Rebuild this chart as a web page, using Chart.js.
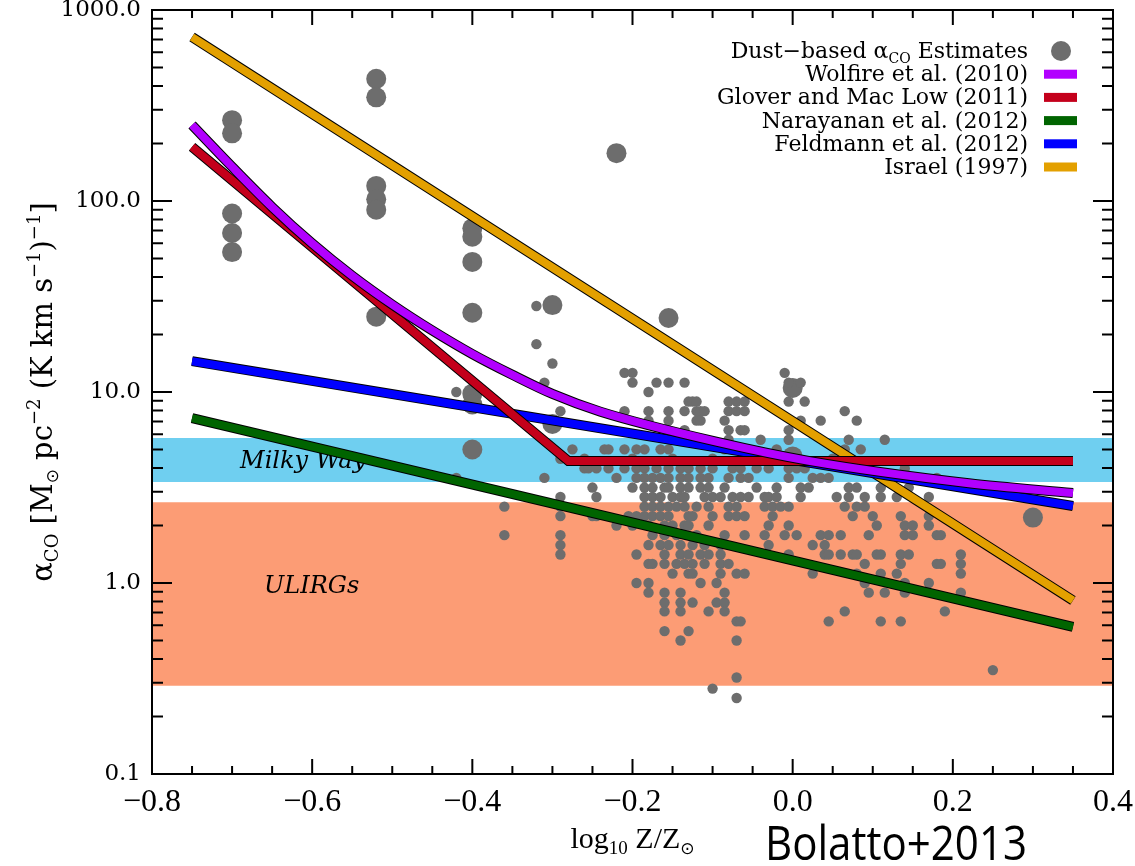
<!DOCTYPE html>
<html>
<head>
<meta charset="utf-8">
<title>alpha_CO vs metallicity</title>
<script src="https://cdn.jsdelivr.net/npm/chart.js@4.4.1/dist/chart.umd.min.js"></script>
<style>
  html, body { margin: 0; padding: 0; background: #fff; }
  #wrap { width: 1135px; height: 866px; }
</style>
</head>
<body>
<div id="wrap"><canvas id="alphaChart"></canvas></div>
<script>
// axis ticks
const xMajorTicks = [-0.8, -0.6, -0.4, -0.2, 0.0, 0.2, 0.4];
const xTickLabels = ['\u22120.8', '\u22120.6', '\u22120.4', '\u22120.2', '0.0', '0.2', '0.4'];
const yMajorTicks = [0.1, 1, 10, 100, 1000];
const yTickLabels = ['0.1', '1.0', '10.0', '100.0', '1000.0'];

// shaded ranges [low, high] in alpha_CO
const bandX = [-0.8, 0.4];
const milkyWayBand = [3.38, 5.74];
const ulirgBand = [0.29, 2.65];

// model curves: log10 Z/Zsun vs alpha_CO
const seriesNames = ['Wolfire et al. (2010)', 'Glover and Mac Low (2011)', 'Narayanan et al. (2012)', 'Feldmann et al. (2012)', 'Israel (1997)'];
const seriesColors = ['#b200ff', '#c4001b', '#006400', '#0000ff', '#e3a000'];

const wolfireX = [-0.75, -0.70, -0.65, -0.60, -0.55, -0.50, -0.45, -0.40, -0.35, -0.30, -0.24, -0.09, 0.02, 0.22, 0.35];
const wolfireY = [250, 151, 93, 60, 40.6, 28.7, 21.0, 15.8, 12.3, 9.77, 7.89, 5.43, 4.36, 3.33, 2.96];
const gloverX = [-0.75, -0.28, 0.35];
const gloverY = [192, 4.35, 4.35];
const narayananX = [-0.75, 0.35];
const narayananY = [7.3, 0.59];
const feldmannX = [-0.75, 0.35];
const feldmannY = [14.5, 2.53];
const israelX = [-0.75, 0.35];
const israelY = [722, 0.81];

// dust-based estimates, big symbols
const dustLargeX = [-0.70, -0.70, -0.70, -0.70, -0.70, -0.52, -0.52, -0.52, -0.52, -0.52, -0.52,
  -0.40, -0.40, -0.40, -0.40, -0.40, -0.40, -0.40, -0.30, -0.30, -0.22, -0.155, 0.00, 0.00, 0.30];
const dustLargeY = [265, 226, 86, 68, 54, 436, 349, 120, 102, 90, 24.8,
  72, 65, 48, 26, 9.8, 8.6, 5.0, 28.5, 6.8, 178, 24.4, 10.5, 4.6, 2.2];

// dust-based estimates, small symbols: one alpha level per row
const dustLevels = [28.2, 17.8, 14.1, 12.6, 11.2, 10.0, 8.91, 7.94, 7.08, 6.31, 5.62, 5.01, 4.47, 3.98,
  3.55, 3.16, 2.82, 2.51, 2.24, 2.00, 1.78, 1.58, 1.41, 1.26, 1.12, 1.00, 0.89, 0.79, 0.71, 0.63,
  0.56, 0.50, 0.35, 0.32, 0.28, 0.25];
const dustRowX = [
  [-0.32],
  [-0.32],
  [-0.30],
  [-0.21, -0.20, -0.01],
  [-0.31, -0.20, -0.17, -0.155, -0.135, 0.01, -0.005],
  [-0.42, -0.18],
  [-0.13, -0.125, -0.12, -0.08, -0.07, -0.06, -0.005, 0.015],
  [-0.29, -0.21, -0.18, -0.155, -0.135, -0.12, -0.115, -0.11, -0.08, -0.07, -0.06, 0.065],
  [-0.18, -0.155, -0.12, -0.115, -0.085, 0.01, 0.035, 0.08],
  [-0.155, -0.135, -0.08, -0.065, -0.06, -0.005],
  [-0.08, -0.04, -0.005, 0.07, 0.115],
  [-0.275, -0.235, -0.23, -0.21, -0.195, -0.185, -0.165, -0.155, -0.085, -0.07, -0.02, 0.065, 0.085],
  [-0.29, -0.26, -0.2, -0.15, -0.1, -0.03, 0.05],
  [-0.26, -0.255, -0.245, -0.23, -0.21, -0.195, -0.185, -0.17, -0.155, -0.14, -0.13, -0.115, -0.10,
    -0.075, -0.065, -0.045, -0.03, -0.005, 0.005, 0.015, 0.14],
  [-0.42, -0.31, -0.22, -0.195, -0.185, -0.175, -0.165, -0.155, -0.14, -0.13, -0.115, -0.105, -0.08,
    -0.065, -0.055, -0.005, 0.025, 0.035, 0.045, 0.18],
  [-0.25, -0.20, -0.185, -0.175, -0.16, -0.155, -0.14, -0.13, -0.115, -0.105, -0.085, -0.045, -0.02,
    0.01, 0.02, 0.07, 0.08, 0.11, 0.145],
  [-0.29, -0.245, -0.185, -0.175, -0.165, -0.15, -0.14, -0.135, -0.11, -0.10, -0.09, -0.075, -0.065,
    -0.055, -0.035, -0.03, -0.02, 0.01, 0.055, 0.07, 0.09, 0.11, 0.13, 0.17],
  [-0.36, -0.29, -0.185, -0.175, -0.165, -0.155, -0.145, -0.135, -0.12, -0.105, -0.08, -0.07, -0.035,
    -0.025, -0.015, -0.005, 0.065, 0.08, 0.09],
  [-0.29, -0.25, -0.245, -0.205, -0.195, -0.185, -0.175, -0.165, -0.155, -0.13, -0.125, -0.10, -0.08,
    -0.07, -0.06, -0.025, 0.075, 0.10, 0.135, 0.17],
  [-0.22, -0.20, -0.18, -0.16, -0.15, -0.135, -0.13, -0.105, -0.03, -0.005, 0.105, 0.14, 0.15, 0.17],
  [-0.36, -0.29, -0.175, -0.16, -0.145, -0.12, -0.085, -0.06, -0.035, -0.01, 0.005, 0.035, 0.045,
    0.06, 0.095, 0.14, 0.15, 0.18, 0.185],
  [-0.29, -0.18, -0.165, -0.155, -0.14, -0.125, -0.11, -0.09, -0.03, 0.025, 0.04],
  [-0.29, -0.195, -0.16, -0.14, -0.13, -0.115, -0.105, -0.09, -0.005, 0.04, 0.045, 0.06, 0.075, 0.08,
    0.105, 0.11, 0.135, 0.145, 0.21],
  [-0.18, -0.175, -0.16, -0.145, -0.135, -0.125, -0.11, -0.09, -0.08, 0.09, 0.135, 0.18, 0.185, 0.21],
  [-0.15, -0.13, -0.125, -0.09, -0.07, -0.06, 0.025, 0.08, 0.11, 0.13, 0.21],
  [-0.195, -0.18, -0.115, -0.095, 0.09, 0.14, 0.17],
  [-0.18, -0.16, -0.14, -0.085, 0.095, 0.115, 0.14, 0.21],
  [-0.16, -0.14, -0.125, -0.095, -0.085],
  [-0.16, -0.14, -0.105, -0.085, 0.065, 0.19],
  [-0.07, -0.065, 0.045, 0.11, 0.135],
  [-0.16, -0.13],
  [-0.14, -0.07],
  [0.25],
  [-0.07],
  [-0.10],
  [-0.07]
];

const dotColor = '#6d6d6d';
const mwLabelAt = [-0.69, 4.3];
const ulirgLabelAt = [-0.66, 0.95];

function toPoints(xs, ys) {
  return xs.map((x, i) => ({ x: x, y: ys[i] }));
}

const dustSmall = [];
dustRowX.forEach((row, i) => {
  row.forEach(x => dustSmall.push({ x: x, y: dustLevels[i] }));
});

// drawn top to bottom: Wolfire over Glover over Feldmann over Narayanan over Israel
const curves = [
  { xs: wolfireX, ys: wolfireY, color: seriesColors[0], smooth: true },
  { xs: gloverX, ys: gloverY, color: seriesColors[1] },
  { xs: feldmannX, ys: feldmannY, color: seriesColors[3] },
  { xs: narayananX, ys: narayananY, color: seriesColors[2] },
  { xs: israelX, ys: israelY, color: seriesColors[4] }
];

const datasets = [
  {
    type: 'line', label: 'Milky Way',
    data: toPoints(bandX, [milkyWayBand[1], milkyWayBand[1]]),
    fill: { value: milkyWayBand[0] }, backgroundColor: '#6fcff0',
    borderColor: 'rgba(0,0,0,0)', borderWidth: 0, pointRadius: 0, order: 30
  },
  {
    type: 'line', label: 'ULIRGs',
    data: toPoints(bandX, [ulirgBand[1], ulirgBand[1]]),
    fill: { value: ulirgBand[0] }, backgroundColor: '#fc9c75',
    borderColor: 'rgba(0,0,0,0)', borderWidth: 0, pointRadius: 0, order: 31
  },
  {
    type: 'scatter', label: 'dust small', data: dustSmall,
    pointRadius: 5.2, backgroundColor: dotColor, borderWidth: 0, order: 20
  },
  {
    type: 'scatter', label: 'dust large', data: toPoints(dustLargeX, dustLargeY),
    pointRadius: 10, backgroundColor: dotColor, borderWidth: 0, order: 20
  }
];

curves.forEach((c, i) => {
  const common = {
    type: 'line', data: toPoints(c.xs, c.ys), pointRadius: 0, fill: false,
    cubicInterpolationMode: c.smooth ? 'monotone' : 'default',
    borderJoinStyle: 'miter', borderCapStyle: 'butt'
  };
  datasets.push(Object.assign({}, common, { borderColor: '#000', borderWidth: 10, order: 2 * i + 1 }));
  datasets.push(Object.assign({}, common, { borderColor: c.color, borderWidth: 8, order: 2 * i }));
});

// draw text pieces in a row, returns total width
function drawPieces(ctx, pieces, x0, y0, measureOnly) {
  let w = 0;
  pieces.forEach(p => {
    ctx.font = p.font;
    if (!measureOnly) ctx.fillText(p.t, x0 + w, y0 + (p.dy || 0));
    w += ctx.measureText(p.t).width;
  });
  return w;
}

const decorations = {
  id: 'decorations',
  afterDatasetDraw(chart, args) {
    if (args.index !== 0) return;
    const { ctx, scales: { x, y } } = chart;
    ctx.save();
    ctx.fillStyle = '#000';
    ctx.textBaseline = 'middle';
    ctx.font = 'italic 24px "DejaVu Serif"';
    ctx.fillText('Milky Way', x.getPixelForValue(mwLabelAt[0]), y.getPixelForValue(mwLabelAt[1]));
    ctx.fillText('ULIRGs', x.getPixelForValue(ulirgLabelAt[0]), y.getPixelForValue(ulirgLabelAt[1]));
    ctx.restore();
  },
  afterDatasetsDraw(chart) {
    const { ctx, chartArea: a, scales: { x, y } } = chart;
    ctx.save();
    ctx.strokeStyle = '#000';
    ctx.lineWidth = 2;
    ctx.beginPath();
    const xMin = xMajorTicks[0], xMax = xMajorTicks[xMajorTicks.length - 1];
    const nx = Math.round((xMax - xMin) / 0.05);
    for (let i = 0; i <= nx; i++) {
      const px = x.getPixelForValue(xMin + i * 0.05);
      const len = i % 4 === 0 ? 15 : 8;
      ctx.moveTo(px, a.bottom); ctx.lineTo(px, a.bottom - len);
      ctx.moveTo(px, a.top); ctx.lineTo(px, a.top + len);
    }
    for (let d = 0; d < yMajorTicks.length; d++) {
      for (let m = 1; m <= 9; m++) {
        if (m > 1 && d === yMajorTicks.length - 1) break;
        const py = y.getPixelForValue(yMajorTicks[d] * m);
        const len = m === 1 ? 20 : 11;
        ctx.moveTo(a.left, py); ctx.lineTo(a.left + len, py);
        ctx.moveTo(a.right, py); ctx.lineTo(a.right - len, py);
      }
    }
    ctx.stroke();
    ctx.strokeRect(a.left, a.top, a.right - a.left, a.bottom - a.top);
    ctx.restore();
  },
  afterDraw(chart) {
    const { ctx, chartArea: a } = chart;
    ctx.save();
    ctx.fillStyle = '#000';
    ctx.textBaseline = 'alphabetic';

    // legend
    const main = '22px "DejaVu Serif"';
    const sub = '14px "DejaVu Serif"';
    const textRight = 1028;
    const rowY = i => 51 + i * 23.2;
    const first = [
      { t: 'Dust\u2212based ', font: main },
      { t: '\u03b1', font: main },
      { t: 'CO', font: sub, dy: 5 },
      { t: ' Estimates', font: main }
    ];
    const w0 = drawPieces(ctx, first, 0, 0, true);
    drawPieces(ctx, first, textRight - w0, rowY(0) + 7);
    ctx.fillStyle = dotColor;
    ctx.beginPath();
    ctx.arc(1061, rowY(0), 10, 0, Math.PI * 2);
    ctx.fill();
    ctx.font = main;
    ctx.textAlign = 'right';
    seriesNames.forEach((name, i) => {
      ctx.fillStyle = '#000';
      ctx.fillText(name, textRight, rowY(i + 1) + 7);
      ctx.fillStyle = seriesColors[i];
      ctx.fillRect(1044, rowY(i + 1) - 4.5, 33, 9);
    });
    ctx.textAlign = 'left';
    ctx.fillStyle = '#000';

    // x title
    const xt = [
      { t: 'log', font: '30px "Liberation Serif"' },
      { t: '10', font: '19px "Liberation Serif"', dy: 6 },
      { t: ' Z/Z', font: '30px "Liberation Serif"' },
      { t: '\u2299', font: '17px "DejaVu Sans"', dy: 6 }
    ];
    const wx = drawPieces(ctx, xt, 0, 0, true);
    drawPieces(ctx, xt, (a.left + a.right) / 2 - wx / 2, 848);

    // y title, rotated
    const big = '29px "DejaVu Serif"';
    const small = '18px "DejaVu Serif"';
    const yt = [
      { t: '\u03b1', font: big },
      { t: 'CO', font: small, dy: 6 },
      { t: ' [M', font: big },
      { t: '\u2299', font: '17px "DejaVu Sans"', dy: 6 },
      { t: ' pc', font: big },
      { t: '\u22122', font: small, dy: -12 },
      { t: ' (K km s', font: big },
      { t: '\u22121', font: small, dy: -12 },
      { t: ')', font: big },
      { t: '\u22121', font: small, dy: -12 },
      { t: ']', font: big }
    ];
    const wy = drawPieces(ctx, yt, 0, 0, true);
    ctx.translate(52, (a.top + a.bottom) / 2);
    ctx.rotate(-Math.PI / 2);
    drawPieces(ctx, yt, -wy / 2, 0);
    ctx.setTransform(1, 0, 0, 1, 0, 0);

    // credit
    ctx.font = '48px "Open Sans"';
    ctx.fillText('Bolatto+2013', 765, 860, 262);
    ctx.restore();
  }
};

new Chart(document.getElementById('alphaChart').getContext('2d'), {
  type: 'scatter',
  data: { datasets: datasets },
  options: {
    responsive: true,
    maintainAspectRatio: false,
    animation: false,
    events: [],
    layout: { padding: { left: 0, right: 22, top: 10, bottom: 0 } },
    plugins: { legend: { display: false }, tooltip: { enabled: false } },
    scales: {
      x: {
        type: 'linear', min: -0.8, max: 0.4,
        grid: { display: false, drawTicks: false },
        border: { display: false },
        afterBuildTicks: s => { s.ticks = xMajorTicks.map(v => ({ value: v })); },
        afterFit: s => { s.height = 92; s.paddingLeft = 0; s.paddingRight = 0; },
        ticks: {
          autoSkip: false, maxRotation: 0, padding: 9, color: '#000',
          font: { family: 'Liberation Serif', size: 32 },
          callback: (v, i) => xTickLabels[i]
        }
      },
      y: {
        type: 'logarithmic', min: 0.1, max: 1000,
        grid: { display: false, drawTicks: false },
        border: { display: false },
        afterBuildTicks: s => { s.ticks = yMajorTicks.map(v => ({ value: v })); },
        afterFit: s => { s.width = 152; s.paddingTop = 0; s.paddingBottom = 0; },
        ticks: {
          autoSkip: false, padding: 11, color: '#000',
          font: { family: 'DejaVu Serif', size: 23 },
          callback: (v, i) => yTickLabels[i]
        }
      }
    }
  },
  plugins: [decorations]
});
</script>
</body>
</html>
